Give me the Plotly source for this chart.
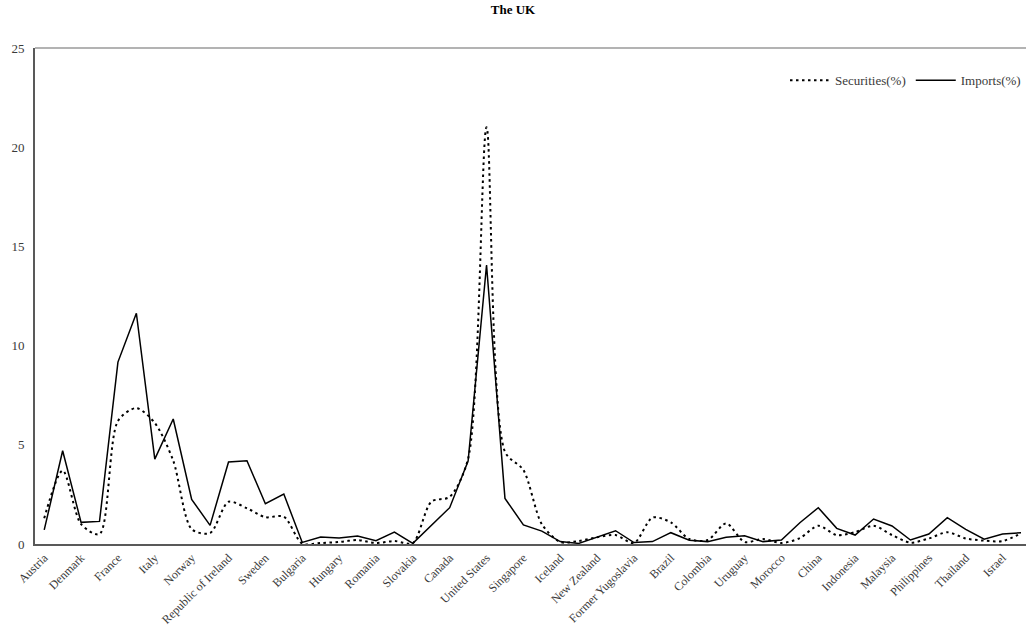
import plotly.graph_objects as go

# Labelled categories (every second category carries a label)
tick_labels = ["Austria", "Denmark", "France", "Italy", "Norway", "Republic of Ireland",
               "Sweden", "Bulgaria", "Hungary", "Romania", "Slovakia", "Canada",
               "United States", "Singapore", "Iceland", "New Zealand", "Former Yugoslavia",
               "Brazil", "Colombia", "Uruguay", "Morocco", "China", "Indonesia",
               "Malaysia", "Philippines", "Thailand", "Israel"]

securities = [1.3, 3.7, 1.0, 0.5, 6.2, 6.85, 6.1, 4.2, 0.75, 0.55,
              2.13, 1.8, 1.35, 1.38, 0.02, 0.05, 0.1, 0.2, 0.05, 0.15,
              0.05, 2.13, 2.38, 4.3, 21.0, 4.65, 3.73, 1.0, 0.1, 0.15,
              0.34, 0.45, 0.05, 1.33, 1.09, 0.25, 0.2, 1.04, 0.1, 0.25,
              0.05, 0.3, 0.92, 0.45, 0.6, 0.92, 0.45, 0.07, 0.28, 0.59,
              0.28, 0.17, 0.15, 0.54]

imports = [0.71, 4.7, 1.09, 1.14, 9.17, 11.63, 4.28, 6.3, 2.25, 0.94,
           4.13, 4.2, 2.03, 2.52, 0.08, 0.35, 0.3, 0.4, 0.17, 0.6,
           0.03, 0.95, 1.83, 4.18, 14.06, 2.3, 0.96, 0.65, 0.12, 0.03,
           0.35, 0.67, 0.07, 0.12, 0.57, 0.19, 0.12, 0.34, 0.42, 0.12,
           0.2, 1.07, 1.83, 0.79, 0.45, 1.26, 0.91, 0.2, 0.5, 1.33,
           0.74, 0.24, 0.5, 0.57]

positions = list(range(len(imports)))
tick_positions = positions[::2][:len(tick_labels)]

FONT = "Liberation Serif"
TEXT = "#3a3a3a"

fig = go.Figure()
fig.add_trace(go.Scatter(
    x=positions, y=securities, mode="lines", name="Securities(%)",
    line=dict(color="black", width=2, dash="2.5px,3.5px", shape="spline", smoothing=0.8),
))
fig.add_trace(go.Scatter(
    x=positions, y=imports, mode="lines", name="Imports(%)",
    line=dict(color="black", width=1.5),
))

fig.update_layout(
    width=1026, height=635,
    margin=dict(l=35, r=0, t=48, b=91, autoexpand=False),
    paper_bgcolor="white", plot_bgcolor="white",
    font=dict(family=FONT, color=TEXT, size=12),
    title=dict(text="<b>The UK</b>", x=0.5, xanchor="center", y=0.992, yanchor="top",
               font=dict(family=FONT, size=13, color="black")),
    legend=dict(orientation="h", x=1, xanchor="right", y=0.935, yanchor="middle",
                font=dict(family=FONT, size=13, color=TEXT),
                bgcolor="rgba(0,0,0,0)", itemwidth=40),
    showlegend=True,
)

fig.update_xaxes(
    range=[-0.5, 53.27], tickmode="array", tickvals=tick_positions, ticktext=tick_labels,
    tickangle=-45, tickfont=dict(family=FONT, size=12, color=TEXT),
    showgrid=False, zeroline=False, showline=True, linecolor="#595959", linewidth=2,
    ticks="", automargin=False,
)
fig.update_yaxes(
    range=[0, 25], tickvals=[0, 5, 10, 15, 20, 25],
    tickfont=dict(family=FONT, size=13, color=TEXT),
    showgrid=False, zeroline=False, showline=True, linecolor="#595959", linewidth=2,
    ticks="", automargin=False, ticklabelstandoff=6,
)

fig.add_shape(type="line", xref="paper", yref="paper", x0=0, x1=1, y0=1, y1=1,
              line=dict(color="#9a9a9a", width=1.5))

fig.write_html("out.html", config={"displayModeBar": False},
               post_script="document.body.style.margin='0';")
